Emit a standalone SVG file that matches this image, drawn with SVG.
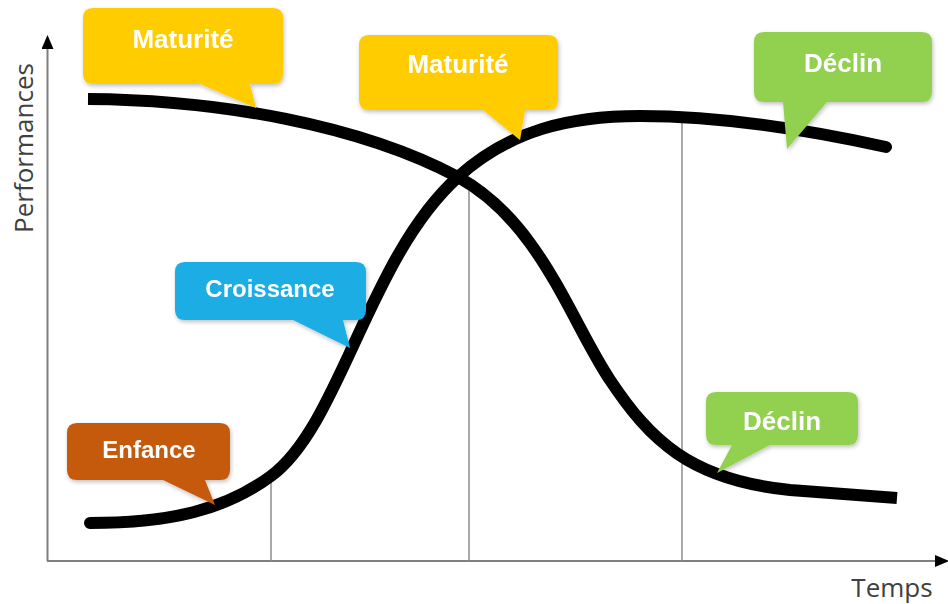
<svg xmlns="http://www.w3.org/2000/svg" width="948" height="604" viewBox="0 0 948 604">
<style>
.axis{stroke:#7f7f7f;stroke-width:2;fill:none}
.grid{stroke:#8c8c8c;stroke-width:1.5;fill:none}
.curve{stroke:#000;stroke-width:12;fill:none}
.lbl{font-family:"Liberation Sans",Arial,sans-serif;font-weight:bold;fill:#fff;text-anchor:middle}
.ax{font-family:"Open Sans","DejaVu Sans",sans-serif;fill:#404040;font-size:26px}
.yellow{fill:#FFCC00}
.green{fill:#92D050}
.blue{fill:#1AADE5}
.orange{fill:#C55A11}
</style>
<defs>
<marker id="arr" viewBox="0 0 14 12" refX="0" refY="6" markerWidth="14" markerHeight="12" markerUnits="userSpaceOnUse" orient="auto">
<path d="M0,0 L14,6 L0,12 Z" fill="#000"/>
</marker>
<filter id="sh" x="-10%" y="-10%" width="130%" height="140%">
<feDropShadow dx="1" dy="2" stdDeviation="2" flood-color="#000" flood-opacity="0.25"/>
</filter>
</defs>
<g id="axes">
<line class="axis" x1="47.5" y1="561" x2="47.5" y2="49" marker-end="url(#arr)"/>
<line class="axis" x1="47" y1="561" x2="935" y2="561" marker-end="url(#arr)"/>
<text class="ax" transform="translate(33,148) rotate(-90)" text-anchor="middle" font-size="27">Performances</text>
<text class="ax" x="892" y="597" text-anchor="middle">Temps</text>
</g>
<g id="grid">
<line class="grid" x1="271" y1="476" x2="271" y2="561"/>
<line class="grid" x1="469" y1="180" x2="469" y2="561"/>
<line class="grid" x1="682" y1="118" x2="682" y2="561"/>
</g>
<g id="connectors">
<path id="curve-growth" class="curve" stroke-linecap="round" d="M90,523 C170,523 225,510 271,476 C341,424 368,258 458,177 C510,130 570,116 640,116 C720,116 800,128 886,147"/>
<path id="curve-decline" class="curve" stroke-linecap="butt" d="M88,99 C220,100 360,125 458,177 C540,222 570,320 610,380 C650,440 690,480 790,490 C840,494 870,496 897,498"/>
</g>
<g id="maturite-1" filter="url(#sh)">
<path class="yellow" d="M93,8 H273 Q283,8 283,18 V74 Q283,84 273,84 H250 L256,108 L200,84 H93 Q83,84 83,74 V18 Q83,8 93,8 Z"/>
<text class="lbl" x="183" y="48" font-size="26">Maturité</text>
</g>
<g id="maturite-2" filter="url(#sh)">
<path class="yellow" d="M369,35 H548 Q558,35 558,45 V100 Q558,110 548,110 H525 L520,140 L483,110 H369 Q359,110 359,100 V45 Q359,35 369,35 Z"/>
<text class="lbl" x="458" y="73" font-size="26">Maturité</text>
</g>
<g id="declin-1" filter="url(#sh)">
<path class="green" d="M764,32 H922 Q932,32 932,42 V92 Q932,102 922,102 H827 L787,149 L783,102 H764 Q754,102 754,92 V42 Q754,32 764,32 Z"/>
<text class="lbl" x="843" y="72" font-size="26">Déclin</text>
</g>
<g id="declin-2" filter="url(#sh)">
<path class="green" d="M716,392 H848 Q858,392 858,402 V435 Q858,445 848,445 H770 L717,473 L732,445 H716 Q706,445 706,435 V402 Q706,392 716,392 Z"/>
<text class="lbl" x="782" y="430" font-size="26">Déclin</text>
</g>
<g id="croissance" filter="url(#sh)">
<path class="blue" d="M185,262 H356 Q366,262 366,272 V310 Q366,320 356,320 H343 L350,348 L293,320 H185 Q175,320 175,310 V272 Q175,262 185,262 Z"/>
<text class="lbl" x="270" y="297" font-size="24">Croissance</text>
</g>
<g id="enfance" filter="url(#sh)">
<path class="orange" d="M77,423 H220 Q230,423 230,433 V470 Q230,480 220,480 H205 L215,505 L163,480 H77 Q67,480 67,470 V433 Q67,423 77,423 Z"/>
<text class="lbl" x="149" y="458" font-size="24">Enfance</text>
</g>
</svg>
